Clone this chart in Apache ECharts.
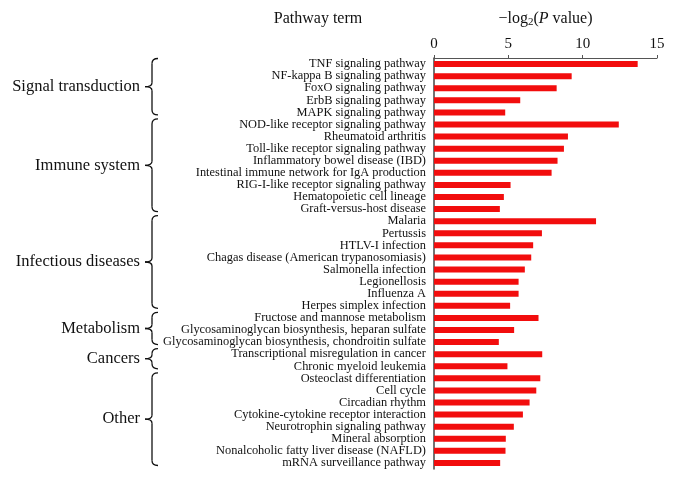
<!DOCTYPE html>
<html><head><meta charset="utf-8">
<script src="https://cdn.jsdelivr.net/npm/echarts@6/dist/echarts.min.js"></script>
<style>html,body{margin:0;padding:0;background:#fff}#c{width:674px;height:479px}</style>
</head><body><div id="c"></div>
<script>
const categories = [
  'TNF signaling pathway','NF-kappa B signaling pathway','FoxO signaling pathway','ErbB signaling pathway','MAPK signaling pathway',
  'NOD-like receptor signaling pathway','Rheumatoid arthritis','Toll-like receptor signaling pathway','Inflammatory bowel disease (IBD)','Intestinal immune network for IgA production','RIG-I-like receptor signaling pathway','Hematopoietic cell lineage','Graft-versus-host disease',
  'Malaria','Pertussis','HTLV-I infection','Chagas disease (American trypanosomiasis)','Salmonella infection','Legionellosis','Influenza A','Herpes simplex infection',
  'Fructose and mannose metabolism','Glycosaminoglycan biosynthesis, heparan sulfate','Glycosaminoglycan biosynthesis, chondroitin sulfate',
  'Transcriptional misregulation in cancer','Chronic myeloid leukemia',
  'Osteoclast differentiation','Cell cycle','Circadian rhythm','Cytokine-cytokine receptor interaction','Neurotrophin signaling pathway','Mineral absorption','Nonalcoholic fatty liver disease (NAFLD)','mRNA surveillance pathway'
];
const values = [
  13.7, 9.26, 8.25, 5.8, 4.79,
  12.43, 9.01, 8.74, 8.31, 7.91, 5.15, 4.70, 4.43,
  10.9, 7.26, 6.67, 6.54, 6.11, 5.69, 5.69, 5.12,
  7.03, 5.39, 4.36,
  7.28, 4.94,
  7.15, 6.88, 6.43, 5.98, 5.37, 4.83, 4.81, 4.45
];
const groupNames = ['Signal transduction','Immune system','Infectious diseases','Metabolism','Cancers','Other'];
const groupSizes = [5, 8, 8, 3, 2, 8];
const xTicks = [0, 5, 10, 15];

const serif = '"Liberation Serif","DejaVu Serif",serif';
const chart = echarts.init(document.getElementById('c'), null, {renderer:'canvas'});
chart.setOption({
  animation: false,
  backgroundColor: '#fff',
  grid: {left: 434, right: 17, top: 58, bottom: 10, containLabel: false},
  xAxis: {
    type: 'value', position: 'top', min: xTicks[0], max: xTicks[xTicks.length-1], interval: 5,
    axisLine: {show: true, lineStyle: {color: '#555', width: 1}},
    axisTick: {show: true, length: 3, lineStyle: {color: '#555'}},
    splitLine: {show: false},
    axisLabel: {fontFamily: serif, fontSize: 15, color: '#111', margin: 6},
    name: '{a|\u2212log}{s|2}{a|(}{i|P}{a| value)}',
    nameLocation: 'middle', nameGap: 30,
    nameTextStyle: {rich: {
      a: {fontFamily: serif, fontSize: 16, color: '#111'},
      i: {fontFamily: serif, fontSize: 16, color: '#111', fontStyle: 'italic'},
      s: {fontFamily: serif, fontSize: 11, color: '#111', padding: [8,0,0,0]}
    }}
  },
  yAxis: {
    type: 'category', inverse: true, data: categories,
    axisLine: {show: true, lineStyle: {color: '#444', width: 1.5}},
    axisTick: {show: false},
    axisLabel: {fontFamily: serif, fontSize: 12.4, color: '#111', margin: 8, interval: 0}
  },
  series: [{
    type: 'bar', data: values, barWidth: 6,
    itemStyle: {color: '#f20d0d'}
  }]
});

// braces and group labels, positioned from the axis scale
const bandH = (479 - 58 - 10) / categories.length;
const gfx = [];
let idx = 0;
const bx = 152;
const st = {stroke: '#111', lineWidth: 1.3, fill: null};
groupNames.forEach((g, k) => {
  const first = categories[idx], last = categories[idx + groupSizes[k] - 1];
  const yc0 = chart.convertToPixel({yAxisIndex: 0}, first);
  const yc1 = chart.convertToPixel({yAxisIndex: 0}, last);
  const y0 = yc0 - bandH/2 + 0.5, y1 = yc1 + bandH/2 - 3.5;
  const ym = (y0 + y1) / 2;
  const r = 5;
  gfx.push({type: 'bezierCurve', shape: {x1: bx+6, y1: y0, cpx1: bx, cpy1: y0, x2: bx, y2: y0+r}, style: st});
  gfx.push({type: 'line', shape: {x1: bx, y1: y0+r, x2: bx, y2: ym-4}, style: st});
  gfx.push({type: 'bezierCurve', shape: {x1: bx, y1: ym-4, cpx1: bx, cpy1: ym, x2: bx-7, y2: ym}, style: st});
  gfx.push({type: 'bezierCurve', shape: {x1: bx-7, y1: ym, cpx1: bx, cpy1: ym, x2: bx, y2: ym+4}, style: st});
  gfx.push({type: 'line', shape: {x1: bx, y1: ym+4, x2: bx, y2: y1-r}, style: st});
  gfx.push({type: 'bezierCurve', shape: {x1: bx, y1: y1-r, cpx1: bx, cpy1: y1, x2: bx+6, y2: y1}, style: st});
  gfx.push({type: 'text', x: 140, y: ym, style: {text: g, font: '16.5px ' + serif, fill: '#111', align: 'right', verticalAlign: 'middle'}});
  idx += groupSizes[k];
});
gfx.push({type: 'text', x: 318, y: 19, style: {text: 'Pathway term', font: '16px ' + serif, fill: '#111', align: 'center', verticalAlign: 'middle'}});
chart.setOption({graphic: gfx});
</script></body></html>
